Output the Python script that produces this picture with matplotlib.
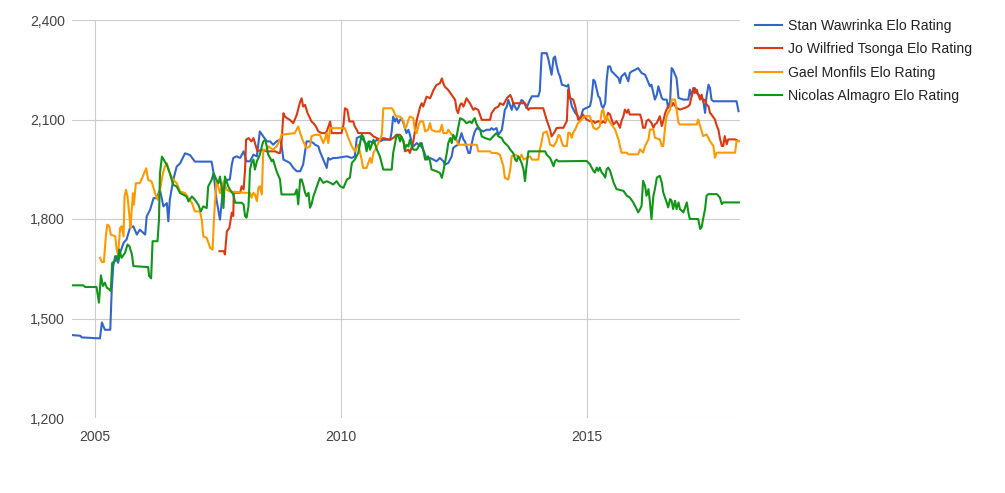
import matplotlib
matplotlib.use("Agg")
import matplotlib.pyplot as plt
from matplotlib.ticker import FuncFormatter

plt.rcParams['font.family'] = ['Liberation Sans', 'DejaVu Sans']

series_labels = ["Stan Wawrinka Elo Rating", "Jo Wilfried Tsonga Elo Rating",
                 "Gael Monfils Elo Rating", "Nicolas Almagro Elo Rating"]
series_colors = ["#3366cc", "#dc3912", "#ff9900", "#109618"]

wawrinka_year = [2004.53, 2004.70, 2004.73, 2005.10, 2005.14, 2005.20, 2005.31, 2005.34, 2005.37, 2005.41,
                 2005.47, 2005.51, 2005.58, 2005.64, 2005.71, 2005.78, 2005.85, 2005.91, 2006.02, 2006.05,
                 2006.12, 2006.19, 2006.25, 2006.32, 2006.39, 2006.46, 2006.49, 2006.52, 2006.59, 2006.66,
                 2006.73, 2006.83, 2006.93, 2007.03, 2007.37, 2007.41, 2007.47, 2007.54, 2007.58, 2007.61,
                 2007.68, 2007.74, 2007.78, 2007.81, 2007.88, 2007.95, 2008.02, 2008.08, 2008.15, 2008.22,
                 2008.29, 2008.35, 2008.42, 2008.49, 2008.56, 2008.62, 2008.69, 2008.76, 2008.79, 2008.83,
                 2008.90, 2008.96, 2009.03, 2009.10, 2009.17, 2009.23, 2009.30, 2009.37, 2009.44, 2009.47,
                 2009.54, 2009.57, 2009.64, 2009.71, 2009.74, 2009.78, 2009.84, 2009.91, 2010.12, 2010.22,
                 2010.28, 2010.32, 2010.39, 2010.45, 2010.52, 2010.59, 2010.66, 2010.73, 2010.79, 2010.86,
                 2011.00, 2011.03, 2011.06, 2011.10, 2011.13, 2011.17, 2011.20, 2011.23, 2011.27, 2011.30,
                 2011.33, 2011.37, 2011.40, 2011.44, 2011.47, 2011.54, 2011.61, 2011.64, 2011.67, 2011.71,
                 2011.74, 2011.81, 2011.88, 2011.94, 2012.01, 2012.08, 2012.11, 2012.18, 2012.25, 2012.28,
                 2012.32, 2012.38, 2012.45, 2012.49, 2012.52, 2012.59, 2012.62, 2012.66, 2012.69, 2012.72,
                 2012.76, 2012.83, 2012.89, 2012.96, 2013.03, 2013.06, 2013.10, 2013.16, 2013.20, 2013.27,
                 2013.33, 2013.37, 2013.40, 2013.47, 2013.50, 2013.57, 2013.60, 2013.64, 2013.67, 2013.71,
                 2013.74, 2013.77, 2013.81, 2013.84, 2013.88, 2013.94, 2014.01, 2014.04, 2014.08, 2014.18,
                 2014.21, 2014.28, 2014.32, 2014.35, 2014.38, 2014.42, 2014.45, 2014.49, 2014.59, 2014.62,
                 2014.65, 2014.69, 2014.76, 2014.82, 2014.86, 2014.89, 2014.92, 2014.99, 2015.06, 2015.09,
                 2015.13, 2015.16, 2015.20, 2015.23, 2015.26, 2015.30, 2015.33, 2015.37, 2015.40, 2015.43,
                 2015.47, 2015.50, 2015.54, 2015.57, 2015.64, 2015.67, 2015.70, 2015.74, 2015.77, 2015.81,
                 2015.84, 2015.87, 2015.91, 2015.98, 2016.04, 2016.11, 2016.18, 2016.21, 2016.28, 2016.31,
                 2016.38, 2016.42, 2016.45, 2016.48, 2016.52, 2016.55, 2016.62, 2016.65, 2016.69, 2016.72,
                 2016.75, 2016.79, 2016.82, 2016.86, 2016.96, 2017.06, 2017.09, 2017.13, 2017.16, 2017.19,
                 2017.23, 2017.30, 2017.36, 2017.40, 2017.43, 2017.47, 2017.50, 2017.53, 2017.57, 2018.04,
                 2018.08]
wawrinka_elo = [1450, 1448, 1443, 1440, 1488, 1466, 1466, 1588, 1658, 1688,
                1668, 1698, 1728, 1738, 1773, 1778, 1753, 1768, 1753, 1808,
                1828, 1863, 1863, 1888, 1838, 1848, 1793, 1858, 1918, 1958,
                1968, 1998, 1993, 1973, 1973, 1938, 1858, 1798, 1858, 1898,
                1918, 1919, 1964, 1984, 1989, 1984, 2004, 1974, 1974, 1994,
                1989, 2064, 2049, 2034, 2034, 2024, 2034, 2039, 2024, 1979,
                1974, 1969, 1954, 1944, 1944, 1964, 2034, 2034, 2029, 2024,
                2019, 2004, 1979, 1954, 1984, 1979, 1984, 1984, 1989, 1984,
                1989, 2044, 2049, 2039, 2024, 2034, 2029, 2039, 2034, 2039,
                2039, 2064, 2109, 2094, 2104, 2089, 2099, 2104, 2089, 2074,
                2059, 2069, 2054, 2029, 2019, 2029, 2019, 2029, 2009, 1994,
                1979, 1984, 1979, 1974, 1984, 1974, 1964, 1969, 1989, 2014,
                2019, 2024, 2059, 2039, 2034, 1999, 1999, 2029, 2049, 2064,
                2074, 2069, 2064, 2069, 2069, 2074, 2069, 2074, 2054, 2069,
                2129, 2139, 2159, 2129, 2149, 2129, 2134, 2149, 2159, 2154,
                2145, 2134, 2149, 2159, 2170, 2170, 2170, 2185, 2300, 2300,
                2285, 2235, 2285, 2290, 2265, 2240, 2230, 2205, 2200, 2205,
                2170, 2140, 2120, 2110, 2095, 2115, 2130, 2135, 2140, 2160,
                2220, 2215, 2190, 2170, 2165, 2140, 2135, 2150, 2220, 2260,
                2260, 2245, 2240, 2235, 2225, 2210, 2230, 2235, 2240, 2225,
                2215, 2240, 2245, 2250, 2255, 2240, 2235, 2225, 2200, 2205,
                2160, 2175, 2200, 2185, 2165, 2160, 2160, 2135, 2155, 2255,
                2250, 2235, 2225, 2165, 2160, 2160, 2190, 2170, 2190, 2195,
                2180, 2170, 2160, 2120, 2170, 2205, 2195, 2160, 2155, 2155,
                2125]

tsonga_year = [2007.53, 2007.62, 2007.64, 2007.68, 2007.73, 2007.78, 2007.81, 2007.82, 2007.95, 2007.98,
               2008.02, 2008.05, 2008.07, 2008.12, 2008.15, 2008.18, 2008.22, 2008.25, 2008.30, 2008.39,
               2008.49, 2008.66, 2008.73, 2008.76, 2008.79, 2008.83, 2008.86, 2008.90, 2008.96, 2009.03,
               2009.10, 2009.17, 2009.20, 2009.23, 2009.27, 2009.32, 2009.37, 2009.40, 2009.44, 2009.49,
               2009.54, 2009.61, 2009.68, 2009.71, 2009.78, 2009.81, 2010.01, 2010.05, 2010.08, 2010.13,
               2010.17, 2010.25, 2010.28, 2010.32, 2010.35, 2010.59, 2010.66, 2010.73, 2010.79, 2010.86,
               2011.00, 2011.06, 2011.13, 2011.20, 2011.27, 2011.30, 2011.37, 2011.40, 2011.47, 2011.54,
               2011.61, 2011.64, 2011.67, 2011.74, 2011.81, 2011.84, 2011.88, 2011.94, 2012.01, 2012.05,
               2012.08, 2012.11, 2012.18, 2012.25, 2012.32, 2012.35, 2012.38, 2012.42, 2012.45, 2012.49,
               2012.55, 2012.62, 2012.69, 2012.72, 2012.79, 2012.86, 2013.03, 2013.06, 2013.13, 2013.20,
               2013.23, 2013.30, 2013.37, 2013.44, 2013.47, 2013.50, 2013.74, 2013.81, 2013.84, 2014.11,
               2014.15, 2014.18, 2014.25, 2014.28, 2014.35, 2014.38, 2014.45, 2014.52, 2014.59, 2014.62,
               2014.65, 2014.72, 2014.76, 2014.79, 2014.82, 2014.86, 2014.92, 2014.99, 2015.06, 2015.13,
               2015.16, 2015.23, 2015.30, 2015.33, 2015.37, 2015.40, 2015.43, 2015.47, 2015.50, 2015.54,
               2015.57, 2015.60, 2015.64, 2015.67, 2015.70, 2015.74, 2015.77, 2015.81, 2015.84, 2015.87,
               2016.08, 2016.11, 2016.14, 2016.18, 2016.21, 2016.25, 2016.28, 2016.31, 2016.35, 2016.38,
               2016.42, 2016.48, 2016.52, 2016.55, 2016.59, 2016.62, 2016.65, 2016.72, 2016.75, 2016.82,
               2016.89, 2016.99, 2017.06, 2017.09, 2017.16, 2017.19, 2017.23, 2017.26, 2017.30, 2017.33,
               2017.36, 2017.40, 2017.43, 2017.47, 2017.50, 2017.53, 2017.60, 2017.64, 2017.67, 2017.70,
               2017.74, 2017.77, 2017.80, 2017.84, 2017.87, 2018.01, 2018.08]
tsonga_elo = [1703, 1703, 1693, 1763, 1773, 1819, 1809, 1879, 1879, 1899,
              1889, 1949, 2039, 2044, 2039, 2034, 2044, 2029, 2004, 2009,
              2004, 2004, 1999, 1999, 2029, 2119, 2109, 2104, 2099, 2089,
              2114, 2154, 2164, 2139, 2144, 2119, 2104, 2094, 2089, 2079,
              2064, 2059, 2059, 2064, 2094, 2059, 2059, 2084, 2134, 2129,
              2094, 2094, 2079, 2069, 2059, 2059, 2049, 2044, 2039, 2044,
              2039, 2044, 2054, 2054, 2034, 2004, 2009, 1999, 2034, 2099,
              2139, 2149, 2139, 2169, 2164, 2174, 2189, 2204, 2209, 2224,
              2209, 2199, 2189, 2174, 2159, 2129, 2119, 2144, 2149, 2139,
              2164, 2149, 2129, 2134, 2129, 2099, 2099, 2119, 2134, 2139,
              2149, 2144, 2164, 2174, 2164, 2149, 2149, 2129, 2134, 2134,
              2114, 2099, 2069, 2049, 2064, 2074, 2075, 2075, 2095, 2190,
              2165, 2160, 2140, 2120, 2100, 2105, 2115, 2100, 2095, 2095,
              2090, 2095, 2090, 2095, 2090, 2105, 2120, 2115, 2100, 2085,
              2090, 2095, 2085, 2075, 2095, 2110, 2130, 2120, 2130, 2115,
              2115, 2100, 2075, 2075, 2095, 2100, 2095, 2090, 2075, 2085,
              2090, 2110, 2080, 2095, 2120, 2130, 2140, 2140, 2150, 2135,
              2130, 2135, 2140, 2145, 2195, 2180, 2190, 2175, 2160, 2175,
              2155, 2160, 2145, 2140, 2120, 2115, 2100, 2080, 2070, 2045,
              2020, 2020, 2050, 2025, 2040, 2040, 2035]

monfils_year = [2005.10, 2005.14, 2005.18, 2005.22, 2005.25, 2005.29, 2005.32, 2005.41, 2005.44, 2005.47,
                2005.51, 2005.54, 2005.58, 2005.60, 2005.63, 2005.66, 2005.70, 2005.72, 2005.77, 2005.79,
                2005.83, 2005.91, 2005.97, 2006.04, 2006.08, 2006.15, 2006.22, 2006.27, 2006.32, 2006.38,
                2006.42, 2006.46, 2006.52, 2006.59, 2006.66, 2006.73, 2006.83, 2006.97, 2007.03, 2007.13,
                2007.17, 2007.20, 2007.27, 2007.34, 2007.39, 2007.42, 2007.47, 2007.54, 2007.61, 2007.68,
                2007.74, 2008.05, 2008.15, 2008.18, 2008.22, 2008.25, 2008.29, 2008.32, 2008.35, 2008.39,
                2008.42, 2008.49, 2008.52, 2008.62, 2008.69, 2008.76, 2008.79, 2009.06, 2009.13, 2009.17,
                2009.23, 2009.30, 2009.37, 2009.40, 2009.47, 2009.57, 2009.64, 2009.68, 2009.71, 2009.74,
                2009.78, 2010.08, 2010.15, 2010.22, 2010.28, 2010.35, 2010.39, 2010.42, 2010.45, 2010.52,
                2010.59, 2010.62, 2010.66, 2010.73, 2010.83, 2010.86, 2011.03, 2011.06, 2011.10, 2011.13,
                2011.20, 2011.27, 2011.30, 2011.33, 2011.37, 2011.40, 2011.47, 2011.50, 2011.54, 2011.57,
                2011.61, 2011.67, 2011.71, 2011.77, 2011.81, 2011.84, 2011.91, 2012.01, 2012.05, 2012.08,
                2012.15, 2012.18, 2012.25, 2012.32, 2012.35, 2012.38, 2012.76, 2012.79, 2013.03, 2013.06,
                2013.16, 2013.23, 2013.27, 2013.30, 2013.33, 2013.40, 2013.44, 2013.47, 2013.54, 2013.60,
                2013.64, 2013.67, 2013.71, 2013.77, 2013.84, 2013.88, 2014.01, 2014.04, 2014.08, 2014.11,
                2014.18, 2014.21, 2014.25, 2014.32, 2014.38, 2014.42, 2014.45, 2014.49, 2014.52, 2014.59,
                2014.62, 2014.65, 2014.69, 2014.72, 2014.76, 2014.79, 2014.82, 2014.86, 2014.89, 2014.96,
                2015.06, 2015.09, 2015.13, 2015.20, 2015.26, 2015.30, 2015.33, 2015.37, 2015.40, 2015.43,
                2015.50, 2015.57, 2015.64, 2015.67, 2015.70, 2015.81, 2015.84, 2016.04, 2016.08, 2016.14,
                2016.18, 2016.25, 2016.28, 2016.35, 2016.38, 2016.48, 2016.52, 2016.55, 2016.59, 2016.62,
                2016.65, 2016.69, 2016.72, 2016.79, 2016.82, 2016.86, 2016.89, 2017.23, 2017.26, 2017.30,
                2017.33, 2017.36, 2017.43, 2017.50, 2017.57, 2017.60, 2017.64, 2018.01, 2018.04, 2018.11]
monfils_elo = [1683, 1670, 1670, 1748, 1783, 1778, 1753, 1748, 1708, 1693,
               1773, 1778, 1748, 1868, 1888, 1868, 1808, 1773, 1878, 1843,
               1908, 1908, 1928, 1953, 1918, 1913, 1878, 1858, 1888, 1938,
               1958, 1968, 1938, 1918, 1908, 1883, 1878, 1848, 1823, 1823,
               1798, 1748, 1743, 1713, 1708, 1808, 1918, 1878, 1913, 1888,
               1883, 1879, 1879, 1864, 1879, 1874, 1854, 1894, 1899, 1874,
               2009, 2009, 2019, 2009, 2019, 2039, 2054, 2059, 2079, 2059,
               2034, 2014, 2019, 2049, 2054, 2054, 2029, 2044, 2059, 2029,
               2074, 2074, 2044, 2019, 2004, 2024, 1999, 1979, 1954, 1954,
               1984, 1969, 1999, 2019, 2054, 2134, 2134, 2129, 2114, 2109,
               2109, 2094, 2074, 2079, 2099, 2109, 2104, 2069, 2059, 2079,
               2094, 2094, 2064, 2069, 2089, 2069, 2064, 2064, 2084, 2059,
               2059, 2069, 2054, 2049, 2039, 2024, 2024, 2004, 2004, 1999,
               1999, 1994, 1974, 1959, 1924, 1919, 1949, 1989, 1994, 1989,
               1984, 1994, 1979, 1984, 1989, 1979, 1979, 2009, 2034, 2059,
               2064, 2049, 2024, 2019, 2034, 2054, 2050, 2030, 2020, 2020,
               2060, 2060, 2045, 2060, 2070, 2080, 2090, 2095, 2100, 2110,
               2110, 2095, 2075, 2070, 2080, 2125, 2130, 2095, 2110, 2100,
               2085, 2070, 2040, 2020, 2000, 2000, 1995, 1995, 2010, 2000,
               2020, 2040, 2070, 2070, 2045, 2040, 2020, 2020, 2080, 2110,
               2120, 2130, 2160, 2160, 2130, 2090, 2085, 2085, 2100, 2080,
               2065, 2050, 2055, 2035, 2020, 1985, 2000, 2000, 2035, 2035]

almagro_year = [2004.53, 2004.76, 2004.80, 2005.03, 2005.08, 2005.12, 2005.16, 2005.20, 2005.24, 2005.29,
                2005.32, 2005.35, 2005.41, 2005.44, 2005.47, 2005.49, 2005.54, 2005.61, 2005.66, 2005.70,
                2005.75, 2005.78, 2006.08, 2006.10, 2006.14, 2006.17, 2006.27, 2006.30, 2006.32, 2006.36,
                2006.42, 2006.46, 2006.52, 2006.59, 2006.66, 2006.73, 2006.80, 2006.86, 2006.90, 2006.97,
                2007.03, 2007.10, 2007.15, 2007.20, 2007.27, 2007.30, 2007.37, 2007.41, 2007.47, 2007.51,
                2007.54, 2007.58, 2007.61, 2007.64, 2007.71, 2007.74, 2007.81, 2007.85, 2007.98, 2008.02,
                2008.05, 2008.08, 2008.12, 2008.15, 2008.18, 2008.22, 2008.25, 2008.29, 2008.35, 2008.39,
                2008.42, 2008.46, 2008.49, 2008.52, 2008.56, 2008.59, 2008.62, 2008.69, 2008.76, 2008.79,
                2009.06, 2009.10, 2009.13, 2009.17, 2009.20, 2009.23, 2009.27, 2009.30, 2009.34, 2009.37,
                2009.40, 2009.44, 2009.51, 2009.57, 2009.64, 2009.71, 2009.78, 2009.84, 2009.91, 2009.98,
                2010.05, 2010.12, 2010.18, 2010.22, 2010.28, 2010.35, 2010.42, 2010.45, 2010.49, 2010.52,
                2010.56, 2010.59, 2010.66, 2010.73, 2010.79, 2010.86, 2011.03, 2011.06, 2011.10, 2011.13,
                2011.17, 2011.20, 2011.23, 2011.27, 2011.30, 2011.33, 2011.37, 2011.40, 2011.44, 2011.47,
                2011.54, 2011.61, 2011.67, 2011.71, 2011.77, 2011.81, 2011.84, 2011.94, 2012.01, 2012.05,
                2012.08, 2012.15, 2012.18, 2012.22, 2012.25, 2012.28, 2012.32, 2012.35, 2012.38, 2012.42,
                2012.49, 2012.55, 2012.62, 2012.66, 2012.69, 2012.72, 2012.76, 2012.83, 2012.86, 2012.93,
                2013.03, 2013.06, 2013.16, 2013.20, 2013.27, 2013.30, 2013.33, 2013.40, 2013.44, 2013.50,
                2013.54, 2013.57, 2013.60, 2013.64, 2013.67, 2013.71, 2013.74, 2013.77, 2013.81, 2014.15,
                2014.18, 2014.25, 2014.28, 2014.32, 2014.35, 2014.38, 2014.42, 2014.99, 2015.06, 2015.13,
                2015.16, 2015.20, 2015.23, 2015.26, 2015.30, 2015.33, 2015.37, 2015.40, 2015.43, 2015.47,
                2015.54, 2015.60, 2015.74, 2015.81, 2015.87, 2015.94, 2016.01, 2016.04, 2016.08, 2016.11,
                2016.14, 2016.18, 2016.21, 2016.25, 2016.28, 2016.31, 2016.35, 2016.38, 2016.42, 2016.48,
                2016.52, 2016.55, 2016.62, 2016.65, 2016.69, 2016.72, 2016.75, 2016.79, 2016.82, 2016.86,
                2016.89, 2016.96, 2017.03, 2017.06, 2017.09, 2017.26, 2017.30, 2017.33, 2017.36, 2017.40,
                2017.43, 2017.47, 2017.64, 2017.70, 2017.74, 2017.77, 2018.11]
almagro_elo = [1600, 1600, 1595, 1595, 1548, 1630, 1598, 1608, 1593, 1588,
               1583, 1668, 1673, 1688, 1678, 1708, 1683, 1698, 1723, 1718,
               1693, 1658, 1655, 1628, 1621, 1733, 1733, 1798, 1938, 1988,
               1973, 1963, 1938, 1903, 1898, 1878, 1873, 1868, 1853, 1868,
               1858, 1843, 1823, 1838, 1833, 1898, 1918, 1938, 1918, 1908,
               1928, 1888, 1833, 1928, 1898, 1889, 1874, 1849, 1849, 1844,
               1809, 1804, 1839, 1949, 1969, 1979, 1949, 1974, 1994, 2019,
               2034, 2039, 2019, 1994, 1984, 1974, 1979, 1944, 1919, 1874,
               1874, 1889, 1844, 1919, 1919, 1904, 1879, 1869, 1879, 1834,
               1844, 1869, 1899, 1924, 1909, 1914, 1909, 1904, 1914, 1899,
               1894, 1919, 1924, 1969, 1979, 1999, 2054, 2049, 2029, 2004,
               2034, 2009, 2039, 2009, 1989, 1949, 1949, 1999, 2029, 2054,
               2049, 2034, 2049, 2034, 2009, 2024, 2019, 2039, 2019, 2009,
               2009, 2029, 2009, 1979, 1989, 1974, 1949, 1944, 1939, 1924,
               1944, 1999, 2029, 2044, 2029, 2054, 2039, 2049, 2074, 2104,
               2099, 2089, 2094, 2089, 2099, 2104, 2084, 2069, 2049, 2044,
               2039, 2044, 2059, 2049, 2044, 2034, 2029, 2019, 2009, 1999,
               1979, 1974, 1989, 1979, 1969, 1949, 1914, 1959, 2004, 2004,
               1994, 1984, 1974, 1959, 1974, 1979, 1974, 1975, 1965, 1945,
               1940, 1955, 1945, 1955, 1940, 1935, 1925, 1950, 1955, 1945,
               1910, 1890, 1885, 1870, 1865, 1850, 1830, 1820, 1830, 1840,
               1915, 1900, 1870, 1890, 1850, 1800, 1870, 1890, 1925, 1930,
               1910, 1880, 1850, 1835, 1860, 1855, 1830, 1855, 1830, 1850,
               1830, 1820, 1850, 1820, 1800, 1800, 1770, 1775, 1800, 1830,
               1870, 1875, 1875, 1865, 1845, 1850, 1850]

y_ticks = [1200, 1500, 1800, 2100, 2400]
x_ticks = [2005, 2010, 2015]
x_tick_labels = ["2005", "2010", "2015"]

all_years = [wawrinka_year, tsonga_year, monfils_year, almagro_year]
all_elos = [wawrinka_elo, tsonga_elo, monfils_elo, almagro_elo]

fig = plt.figure(figsize=(10.05, 4.93), dpi=100)
ax = fig.add_axes([72 / 1005, 75 / 493, 668 / 1005, 398 / 493])

for yrs, elos, lab, col in zip(all_years, all_elos, series_labels, series_colors):
    ax.plot(yrs, elos, color=col, lw=1.5, label=lab, solid_joinstyle='round')

ax.set_xlim(2004.532, 2018.11)
ax.set_ylim(1200, 2400)
ax.set_yticks(y_ticks)
ax.yaxis.set_major_formatter(FuncFormatter(lambda v, p: f"{int(v):,}"))
ax.set_xticks(x_ticks)
ax.set_xticklabels(x_tick_labels)
ax.grid(True, color="#cccccc", lw=0.8)
ax.set_axisbelow(True)
for s in ax.spines.values():
    s.set_visible(False)
ax.tick_params(axis='both', length=0, labelsize=10.1, colors="#444444")
ax.tick_params(axis='y', pad=5)
ax.tick_params(axis='x', pad=8.5)

leg = fig.legend(loc='upper left', bbox_to_anchor=(755 / 1005, 1 - 19 / 493), frameon=False,
                 fontsize=10.1, handlelength=1.95, handletextpad=0.43, labelspacing=0.66,
                 borderaxespad=0, borderpad=0)
for t in leg.get_texts():
    t.set_color("#222222")

fig.savefig("out.png", dpi=100, facecolor="white")
